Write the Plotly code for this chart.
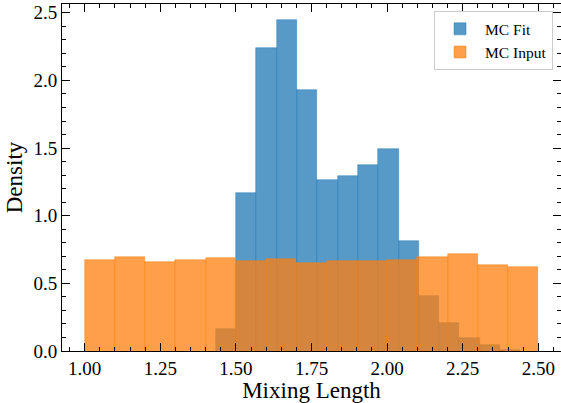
import numpy as np
import plotly.graph_objects as go

# ---- data ----
fit_edges = [1.434, 1.501, 1.568, 1.635, 1.702, 1.769, 1.836, 1.903, 1.970,
             2.038, 2.105, 2.172, 2.239, 2.306, 2.373, 2.440]
fit_density = [0.159, 1.169, 2.243, 2.448, 1.930, 1.263, 1.293, 1.374, 1.493,
               0.813, 0.404, 0.204, 0.095, 0.041, 0.011]

input_edges = [1.0, 1.1, 1.2, 1.3, 1.4, 1.5, 1.6, 1.7, 1.8, 1.9, 2.0,
               2.1, 2.2, 2.3, 2.4, 2.5]
input_density = [0.670, 0.693, 0.656, 0.670, 0.685, 0.663, 0.678, 0.648, 0.663,
                 0.663, 0.673, 0.693, 0.715, 0.633, 0.619]

x_tickvals = [1.00, 1.25, 1.50, 1.75, 2.00, 2.25, 2.50]
x_ticktext = ["1.00", "1.25", "1.50", "1.75", "2.00", "2.25", "2.50"]
y_tickvals = [0.0, 0.5, 1.0, 1.5, 2.0, 2.5]
y_ticktext = ["0.0", "0.5", "1.0", "1.5", "2.0", "2.5"]

series_names = ["MC Fit", "MC Input"]
x_label = "Mixing Length"
y_label = "Density"

# ---- derived bar geometry ----
def centers_widths(edges):
    e = np.asarray(edges, dtype=float)
    return (e[:-1] + e[1:]) / 2.0, np.diff(e)

fit_x, fit_w = centers_widths(fit_edges)
inp_x, inp_w = centers_widths(input_edges)

BLUE = "rgba(31,119,180,0.75)"
ORANGE = "rgba(255,127,14,0.75)"
FONT = "Liberation Serif, DejaVu Serif, serif"

fig = go.Figure()
fig.add_trace(go.Bar(x=fit_x, y=fit_density, width=fit_w, name=series_names[0],
                     marker=dict(color=BLUE, line=dict(color=BLUE, width=0.6))))
fig.add_trace(go.Bar(x=inp_x, y=input_density, width=inp_w, name=series_names[1],
                     marker=dict(color=ORANGE, line=dict(color=ORANGE, width=0.6))))

axis_common = dict(
    showline=True, linecolor="black", linewidth=1, mirror="allticks",
    ticks="inside", ticklen=8, tickwidth=1, tickcolor="black",
    showgrid=False, zeroline=False, automargin=False,
    tickfont=dict(family=FONT, size=19, color="black"),
)

fig.update_xaxes(
    range=[0.925, 2.575], tickvals=x_tickvals, ticktext=x_ticktext,
    minor=dict(ticks="inside", ticklen=4, tickwidth=1, tickcolor="black",
               dtick=0.05, tick0=0, showgrid=False),
    title=dict(text=x_label, font=dict(family=FONT, size=23, color="black"),
               standoff=0),
    **axis_common,
)
fig.update_yaxes(
    range=[0, 2.565], tickvals=y_tickvals, ticktext=y_ticktext,
    minor=dict(ticks="inside", ticklen=4, tickwidth=1, tickcolor="black",
               dtick=0.1, tick0=0, showgrid=False),
    title=dict(text=y_label, font=dict(family=FONT, size=23, color="black"),
               standoff=4),
    **axis_common,
)

fig.update_layout(
    width=561, height=403,
    margin=dict(l=62, r=0, t=4, b=52, autoexpand=False),
    font=dict(family=FONT, color="black"),
    barmode="overlay", bargap=0,
    plot_bgcolor="white", paper_bgcolor="white",
    showlegend=True,
    legend=dict(
        x=0.984, y=0.979, xanchor="right", yanchor="top",
        bgcolor="rgba(255,255,255,0.8)", bordercolor="#cccccc", borderwidth=1,
        font=dict(family=FONT, size=15.5, color="black"),
        traceorder="normal", itemwidth=40, tracegroupgap=0,
    ),
)

fig.write_html(
    "out.html",
    config={"displayModeBar": False},
    post_script="document.body.style.margin='0';document.body.style.padding='0';",
)
